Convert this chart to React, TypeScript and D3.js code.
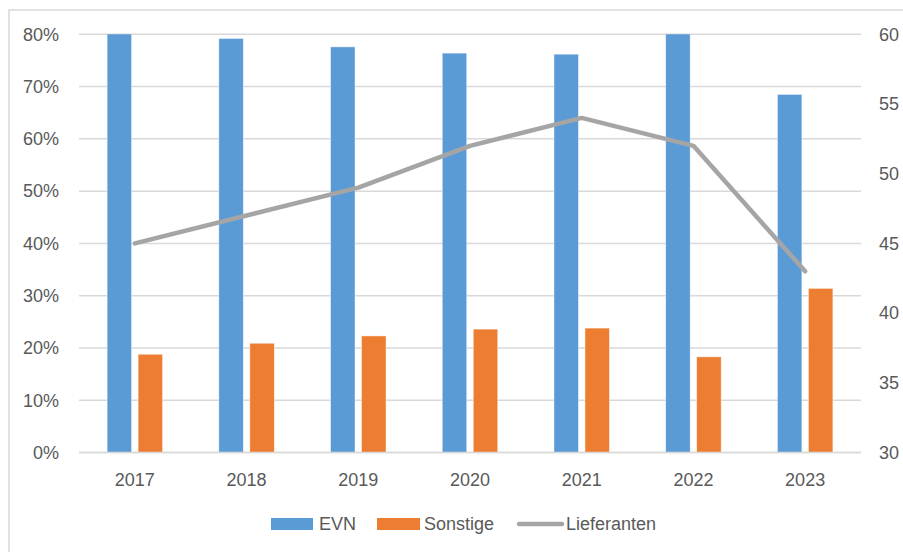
import React from "react";
import * as d3 from "d3";

const years = ["2017", "2018", "2019", "2020", "2021", "2022", "2023"];
const evn = [81.2, 79.2, 77.6, 76.4, 76.2, 81.7, 68.5];
const sonstige = [18.8, 20.9, 22.3, 23.6, 23.8, 18.3, 31.4];
const lieferanten = [45, 47, 49, 52, 54, 52, 43];
const leftTicks = [0, 10, 20, 30, 40, 50, 60, 70, 80];
const rightTicks = [30, 35, 40, 45, 50, 55, 60];

const W = 903;
const H = 552;
const plot = { left: 79, right: 861, top: 34.3, bottom: 452.5 };
const textColor = "#595959";
const gridColor = "#D9D9D9";
const font = "'Liberation Sans', Arial, sans-serif";

export default function App() {
  const x = d3.scaleBand<string>().domain(years).range([plot.left, plot.right]);
  const yL = d3.scaleLinear().domain([0, 80]).range([plot.bottom, plot.top]);
  const yR = d3.scaleLinear().domain([30, 60]).range([plot.bottom, plot.top]);
  const barW = 24.5;
  const gap = 6.5;
  const line = d3
    .line<number>()
    .x((_, i) => (x(years[i]) as number) + x.bandwidth() / 2)
    .y((d) => yR(d));

  return (
    <div style={{ position: "absolute", left: 0, top: 0 }}>
      <svg width={W} height={H} style={{ display: "block" }} fontFamily={font}>
        <rect x={0} y={0} width={W} height={H} fill="#fff" />
        <rect x={9} y={10} width={W} height={H} fill="none" stroke={gridColor} strokeWidth={1.5} />
        <defs>
          <clipPath id="plotclip">
            <rect x={plot.left} y={plot.top} width={plot.right - plot.left} height={plot.bottom - plot.top} />
          </clipPath>
        </defs>
        {leftTicks.map((t) => (
          <line key={t} x1={plot.left} x2={plot.right} y1={yL(t)} y2={yL(t)} stroke={gridColor} strokeWidth={1.5} />
        ))}
        {leftTicks.map((t) => (
          <text key={"l" + t} x={59} y={yL(t)} dy="0.35em" textAnchor="end" fontSize={18} fill={textColor}>
            {t}%
          </text>
        ))}
        {rightTicks.map((t) => (
          <text key={"r" + t} x={879} y={yR(t)} dy="0.35em" textAnchor="start" fontSize={18} fill={textColor}>
            {t}
          </text>
        ))}
        <g clipPath="url(#plotclip)">
          {years.map((yr, i) => {
            const cx = (x(yr) as number) + x.bandwidth() / 2;
            return (
              <g key={yr}>
                <rect
                  x={cx - gap / 2 - barW}
                  y={yL(evn[i])}
                  width={barW}
                  height={yL(0) - yL(evn[i])}
                  fill="#5B9BD5"
                  stroke="#fff"
                  strokeOpacity={0.6}
                  strokeWidth={0.75}
                />
                <rect
                  x={cx + gap / 2}
                  y={yL(sonstige[i])}
                  width={barW}
                  height={yL(0) - yL(sonstige[i])}
                  fill="#ED7D31"
                  stroke="#fff"
                  strokeOpacity={0.6}
                  strokeWidth={0.75}
                />
              </g>
            );
          })}
        </g>
        <line x1={plot.left} x2={plot.right} y1={plot.bottom} y2={plot.bottom} stroke={gridColor} strokeWidth={1.5} />
        <path d={line(lieferanten) as string} fill="none" stroke="#A5A5A5" strokeWidth={4.5} strokeLinejoin="round" strokeLinecap="round" />
        {years.map((yr) => (
          <text
            key={"x" + yr}
            x={(x(yr) as number) + x.bandwidth() / 2}
            y={480}
            dy="0.35em"
            textAnchor="middle"
            fontSize={18}
            fill={textColor}
          >
            {yr}
          </text>
        ))}
        <g>
          <rect x={271} y={518} width={42} height={12} fill="#5B9BD5" />
          <text x={319} y={524} dy="0.35em" fontSize={18} fill={textColor}>EVN</text>
          <rect x={377} y={518} width={43} height={12} fill="#ED7D31" />
          <text x={424} y={524} dy="0.35em" fontSize={18} fill={textColor}>Sonstige</text>
          <line x1={519} x2={562} y1={524} y2={524} stroke="#A5A5A5" strokeWidth={4.5} strokeLinecap="round" />
          <text x={566} y={524} dy="0.35em" fontSize={18} fill={textColor}>Lieferanten</text>
        </g>
      </svg>
    </div>
  );
}
